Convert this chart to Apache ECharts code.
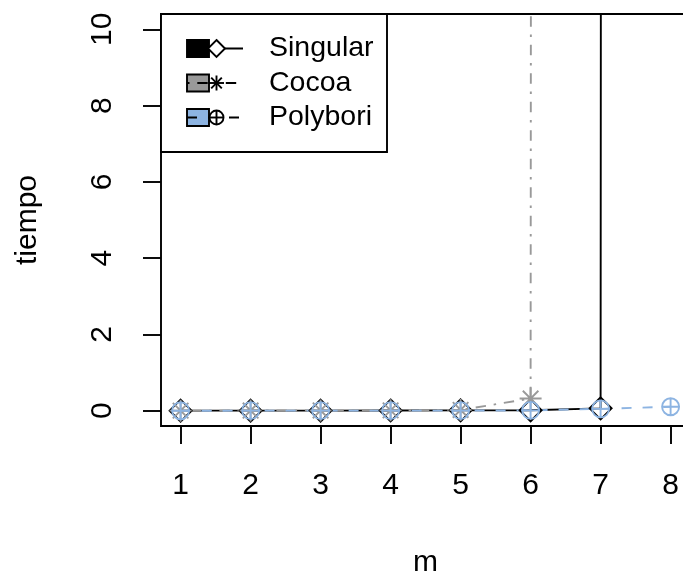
<!DOCTYPE html>
<html>
<head>
<meta charset="utf-8">
<script src="https://cdn.jsdelivr.net/npm/echarts@6/dist/echarts.min.js"></script>
<style>
  html, body { margin: 0; padding: 0; background: #fff; }
  #chart { width: 683px; height: 580px; }
</style>
</head>
<body>
<div id="chart"></div>
<script>
// datos
var seriesNames = ['Singular', 'Cocoa', 'Polybori'];
var mValues = [1, 2, 3, 4, 5, 6, 7, 8];
var singularTimes = [0.002, 0.003, 0.004, 0.006, 0.01, 0.012, 0.063, 3000];
var cocoaTimes = [0.003, 0.005, 0.008, 0.01, 0.02, 0.32, 2500, null];
var polyboriTimes = [0.001, 0.002, 0.002, 0.003, 0.004, 0.01, 0.05, 0.105];
var xTicks = [1, 2, 3, 4, 5, 6, 7, 8];
var yTicks = [0, 2, 4, 6, 8, 10];

var seriesColors = ['#000000', '#999999', '#8DB4E2'];
var fillColors = ['#000000', '#999999', '#8DB4E2'];
var dashes = ['solid', [2.5, 7.8, 10.4, 7.8], [10, 11]];

var asteriskPath = 'path://M0,10L20,10M10,0L10,20M2.93,2.93L17.07,17.07M17.07,2.93L2.93,17.07';
var oplusPath = 'path://M0,10A10,10,0,1,1,20,10A10,10,0,1,1,0,10ZM0,10L20,10M10,0L10,20';

function pairs(values) {
    var out = [];
    for (var i = 0; i < mValues.length; i++) {
        if (values[i] !== null) out.push([mValues[i], values[i]]);
    }
    return out;
}

var LW = 1.9;
var FONT = 'Liberation Sans, Arial, sans-serif';

var myChart = echarts.init(document.getElementById('chart'), null, { renderer: 'canvas' });

// leyenda dibujada a mano (caja con relleno + linea + punto)
var legendRows = [48.5, 83, 117.5];
var legendChildren = [{
    type: 'rect',
    shape: { x: 161, y: 14, width: 226, height: 138 },
    style: { fill: '#fff', stroke: '#000', lineWidth: LW }
}];
seriesNames.forEach(function (name, i) {
    var y = legendRows[i];
    legendChildren.push({
        type: 'rect',
        shape: { x: 187, y: y - 8.5, width: 22, height: 17 },
        style: { fill: fillColors[i], stroke: '#000', lineWidth: LW }
    });
    legendChildren.push({
        type: 'line',
        shape: { x1: 187, y1: y, x2: 243, y2: y },
        style: {
            stroke: '#000', lineWidth: LW,
            lineDash: dashes[i] === 'solid' ? null : dashes[i]
        }
    });
    var cx = 216.5;
    if (i === 0) {
        legendChildren.push({
            type: 'polygon',
            shape: { points: [[cx, y - 8.5], [cx + 8.5, y], [cx, y + 8.5], [cx - 8.5, y]] },
            style: { fill: '#fff', stroke: '#000', lineWidth: LW }
        });
    } else if (i === 1) {
        var a = 7.5, d = 5.3;
        [[cx - a, y, cx + a, y], [cx, y - a, cx, y + a],
         [cx - d, y - d, cx + d, y + d], [cx + d, y - d, cx - d, y + d]].forEach(function (s) {
            legendChildren.push({
                type: 'line',
                shape: { x1: s[0], y1: s[1], x2: s[2], y2: s[3] },
                style: { stroke: '#000', lineWidth: LW }
            });
        });
    } else {
        var r = 7;
        legendChildren.push({
            type: 'circle',
            shape: { cx: cx, cy: y, r: r },
            style: { fill: '#fff', stroke: '#000', lineWidth: LW }
        });
        legendChildren.push({
            type: 'line', shape: { x1: cx - r, y1: y, x2: cx + r, y2: y },
            style: { stroke: '#000', lineWidth: LW }
        });
        legendChildren.push({
            type: 'line', shape: { x1: cx, y1: y - r, x2: cx, y2: y + r },
            style: { stroke: '#000', lineWidth: LW }
        });
    }
    legendChildren.push({
        type: 'text',
        style: {
            x: 269, y: y, text: name, fill: '#000',
            font: '28.5px ' + FONT, textVerticalAlign: 'middle'
        }
    });
});

var option = {
    animation: false,
    backgroundColor: '#fff',
    textStyle: { fontFamily: FONT },
    grid: {
        left: 161, top: 14, width: 529.2, height: 412,
        outerBoundsMode: 'none',
        containLabel: false,
        show: true, borderColor: '#000', borderWidth: LW,
        backgroundColor: 'transparent'
    },
    xAxis: {
        type: 'value',
        min: 0.72, max: 8.28,
        name: 'm', nameLocation: 'middle', nameGap: 122,
        nameTextStyle: { fontSize: 30, color: '#000', verticalAlign: 'top' },
        axisLine: { show: false, onZero: false },
        axisTick: { show: true, length: 18, customValues: xTicks, lineStyle: { color: '#000', width: LW } },
        axisLabel: { customValues: xTicks, fontSize: 30, color: '#000', margin: 45 },
        splitLine: { show: false }
    },
    yAxis: {
        type: 'value',
        min: -0.4, max: 10.4,
        name: 'tiempo', nameLocation: 'middle', nameGap: 118,
        nameTextStyle: { fontSize: 30, color: '#000', align: 'center', verticalAlign: 'bottom' },
        axisLine: { show: false, onZero: false },
        axisTick: { show: true, length: 18, customValues: yTicks, lineStyle: { color: '#000', width: LW } },
        axisLabel: {
            customValues: yTicks, fontSize: 30, color: '#000', margin: 43,
            rotate: 90, align: 'center', verticalAlign: 'bottom'
        },
        splitLine: { show: false }
    },
    series: [{
        name: seriesNames[0],
        type: 'line',
        data: pairs(singularTimes),
        symbol: 'diamond',
        symbolSize: 22,
        itemStyle: { color: 'rgba(0,0,0,0)', borderColor: seriesColors[0], borderWidth: LW },
        lineStyle: { color: seriesColors[0], width: LW, type: 'solid' }
    }, {
        name: seriesNames[1],
        type: 'line',
        data: pairs(cocoaTimes),
        symbol: asteriskPath,
        symbolSize: 22,
        itemStyle: { color: 'rgba(0,0,0,0)', borderColor: seriesColors[1], borderWidth: LW },
        lineStyle: { color: seriesColors[1], width: LW, type: dashes[1], cap: 'butt' }
    }, {
        name: seriesNames[2],
        type: 'line',
        data: pairs(polyboriTimes),
        symbol: oplusPath,
        symbolSize: 17,
        itemStyle: { color: 'rgba(0,0,0,0)', borderColor: seriesColors[2], borderWidth: LW },
        lineStyle: { color: seriesColors[2], width: LW, type: dashes[2], cap: 'butt' }
    }],
    graphic: [{
        type: 'group',
        z: 100,
        children: legendChildren
    }]
};

myChart.setOption(option);
</script>
</body>
</html>
